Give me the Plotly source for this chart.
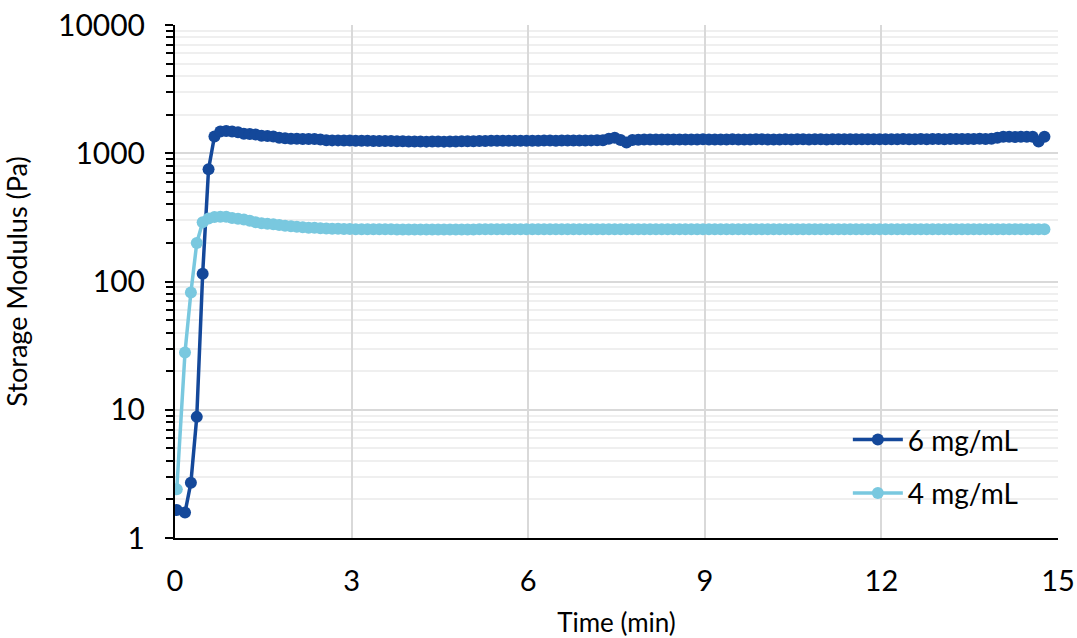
import plotly.graph_objects as go

# Time (min)
time_min = [
    0.03, 0.17, 0.27, 0.37, 0.47, 0.57, 0.67, 0.77, 0.87, 0.97,
    1.07, 1.17, 1.27, 1.37, 1.47, 1.57, 1.67, 1.77, 1.87, 1.97,
    2.07, 2.17, 2.27, 2.37, 2.47, 2.57, 2.67, 2.77, 2.87, 2.97,
    3.07, 3.17, 3.27, 3.37, 3.47, 3.57, 3.67, 3.77, 3.87, 3.97,
    4.07, 4.17, 4.27, 4.37, 4.47, 4.57, 4.67, 4.77, 4.87, 4.97,
    5.07, 5.17, 5.27, 5.37, 5.47, 5.57, 5.67, 5.77, 5.87, 5.97,
    6.07, 6.17, 6.27, 6.37, 6.47, 6.57, 6.67, 6.77, 6.87, 6.97,
    7.07, 7.17, 7.27, 7.37, 7.47, 7.57, 7.67, 7.77, 7.87, 7.97,
    8.07, 8.17, 8.27, 8.37, 8.47, 8.57, 8.67, 8.77, 8.87, 8.97,
    9.07, 9.17, 9.27, 9.37, 9.47, 9.57, 9.67, 9.77, 9.87, 9.97,
    10.07, 10.17, 10.27, 10.37, 10.47, 10.57, 10.67, 10.77, 10.87, 10.97,
    11.07, 11.17, 11.27, 11.37, 11.47, 11.57, 11.67, 11.77, 11.87, 11.97,
    12.07, 12.17, 12.27, 12.37, 12.47, 12.57, 12.67, 12.77, 12.87, 12.97,
    13.07, 13.17, 13.27, 13.37, 13.47, 13.57, 13.67, 13.77, 13.87, 13.97,
    14.07, 14.17, 14.27, 14.37, 14.47, 14.57, 14.67, 14.77,
]

# Storage modulus (Pa), 6 mg/mL
g_6mg = [
    1.65, 1.58, 2.7, 8.8, 115, 750, 1350, 1480, 1490, 1480,
    1460, 1420, 1410, 1400, 1370, 1360, 1350, 1320, 1310, 1300,
    1300, 1290, 1290, 1290, 1280, 1265, 1260, 1260, 1255, 1255,
    1250, 1250, 1250, 1248, 1245, 1245, 1245, 1240, 1238, 1235,
    1235, 1235, 1232, 1235, 1235, 1232, 1235, 1235, 1238, 1240,
    1240, 1245, 1248, 1250, 1250, 1250, 1252, 1250, 1250, 1252,
    1250, 1250, 1255, 1255, 1252, 1255, 1255, 1255, 1258, 1258,
    1260, 1262, 1265, 1300, 1320, 1270, 1215, 1270, 1275, 1278,
    1280, 1280, 1282, 1280, 1280, 1282, 1280, 1280, 1282, 1285,
    1282, 1280, 1280, 1282, 1285, 1282, 1280, 1282, 1285, 1285,
    1282, 1280, 1282, 1285, 1282, 1285, 1285, 1282, 1285, 1285,
    1282, 1285, 1285, 1288, 1285, 1285, 1288, 1285, 1285, 1288,
    1288, 1285, 1288, 1290, 1288, 1288, 1290, 1288, 1290, 1290,
    1288, 1290, 1292, 1290, 1290, 1292, 1295, 1292, 1295, 1320,
    1345, 1342, 1340, 1345, 1342, 1345, 1235, 1345,
]

# Storage modulus (Pa), 4 mg/mL
g_4mg = [
    2.4, 28, 82, 200, 290, 310, 318, 320, 320, 312,
    308, 305, 298, 290, 285, 282, 280, 276, 272, 270,
    267, 265, 262, 262, 260, 259, 258, 258, 257, 257,
    256, 256, 256, 255, 255, 255, 255, 254, 254, 254,
    254, 254, 254, 254, 254, 254, 254, 254, 254, 254,
    254, 255, 255, 255, 255, 255, 255, 255, 255, 255,
    255, 255, 255, 255, 255, 255, 255, 255, 255, 255,
    255, 255, 255, 255, 255, 255, 255, 255, 255, 255,
    255, 255, 255, 255, 255, 255, 255, 255, 255, 255,
    255, 255, 255, 256, 256, 256, 256, 256, 256, 256,
    256, 256, 256, 256, 256, 256, 256, 256, 256, 256,
    256, 256, 256, 256, 256, 256, 256, 256, 256, 256,
    256, 256, 256, 256, 256, 256, 256, 256, 256, 256,
    256, 256, 256, 256, 256, 256, 256, 256, 256, 256,
    256, 256, 256, 256, 256, 256, 256, 256,
]

series_names = ["6 mg/mL", "4 mg/mL"]
x_ticks = [0, 3, 6, 9, 12, 15]
y_ticks = [1, 10, 100, 1000, 10000]
y_tick_text = ["1", "10", "100", "1000", "10000"]

DARK = "#14489A"
LIGHT = "#79C8DF"
FONT = "Lato"

fig = go.Figure()
fig.add_trace(go.Scatter(
    x=time_min, y=g_6mg, name=series_names[0], mode="lines+markers",
    line=dict(color=DARK, width=3.5), marker=dict(color=DARK, size=12),
    legendgroup="a",
))
fig.add_trace(go.Scatter(
    x=time_min, y=g_4mg, name=series_names[1], mode="lines+markers",
    line=dict(color=LIGHT, width=3.5), marker=dict(color=LIGHT, size=12),
    legendgroup="b",
))

fig.update_layout(
    width=1077, height=638,
    margin=dict(l=175, r=19, t=25, b=100),
    plot_bgcolor="white", paper_bgcolor="white",
    font=dict(family=FONT, color="black"),
    legend=dict(
        x=0.762, y=0.24, xanchor="left", yanchor="top",
        font=dict(family=FONT, size=28, color="black"),
        bgcolor="rgba(0,0,0,0)", tracegroupgap=14,
        itemwidth=50,
    ),
    xaxis=dict(
        range=[0, 15.0001], tickvals=x_ticks, automargin=False,
        ticklabeloverflow="allow",
        tickfont=dict(family=FONT, size=29),
        showgrid=True, gridcolor="#d9d9d9", gridwidth=2,
        showline=True, linecolor="black", linewidth=2,
        zeroline=False, ticks="", ticklabelstandoff=16,
        title=dict(text="Time (min)", font=dict(family=FONT, size=26), standoff=22),
    ),
    yaxis=dict(
        type="log", range=[0, 4], tickvals=y_ticks, ticktext=y_tick_text,
        automargin=False, ticklabeloverflow="allow",
        tickfont=dict(family=FONT, size=30),
        showgrid=True, gridcolor="#d9d9d9", gridwidth=2,
        showline=True, linecolor="black", linewidth=2,
        zeroline=False, ticks="outside", ticklen=8, tickwidth=2, tickcolor="black",
        ticklabelstandoff=14,
        minor=dict(dtick="D1", ticks="outside", ticklen=7, tickwidth=2, tickcolor="black",
                   showgrid=True, gridcolor="#efefef", gridwidth=2),
        title=dict(text="Storage Modulus (Pa)", font=dict(family=FONT, size=27), standoff=53),
    ),
)

# remove the default page margin so the figure fills the window exactly
fig.write_html(
    "out.html",
    config={"displayModeBar": False},
    post_script="document.body.style.margin='0';",
)
